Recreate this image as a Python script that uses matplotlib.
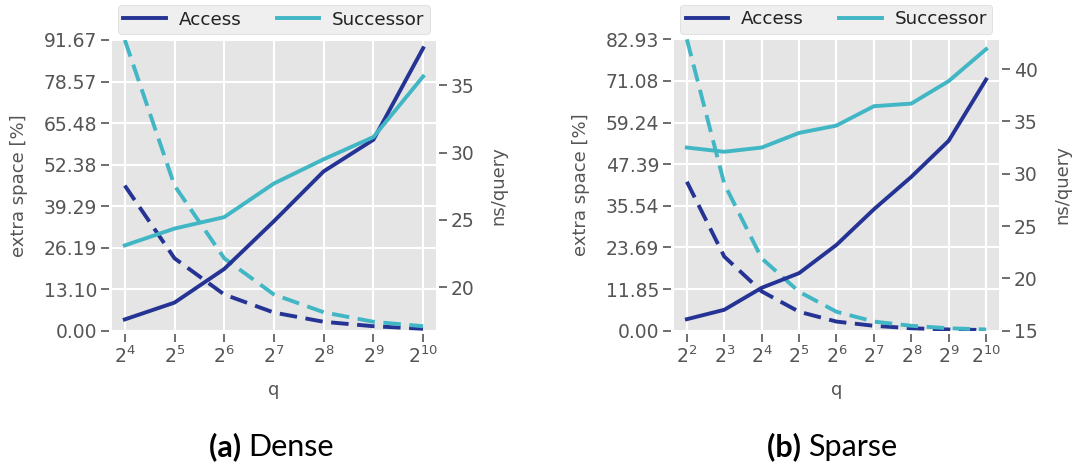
import matplotlib
matplotlib.use("Agg")
import matplotlib.pyplot as plt
import numpy as np

plt.style.use("ggplot")
plt.rcParams["font.family"] = ["DejaVu Sans"]
plt.rcParams["mathtext.fontset"] = "dejavusans"

# q values (log2)
dense_exp = [4, 5, 6, 7, 8, 9, 10]
sparse_exp = [2, 3, 4, 5, 6, 7, 8, 9, 10]

# extra space [%] (dashed, left axis)
dense_space_access = [45.8, 22.9, 11.5, 5.8, 2.9, 1.5, 0.7]
dense_space_succ = [91.67, 45.8, 22.9, 11.5, 5.9, 2.9, 1.5]
sparse_space_access = [42.4, 21.1, 11.2, 5.4, 2.6, 1.4, 0.7, 0.35, 0.2]
sparse_space_succ = [82.93, 41.8, 20.6, 11.1, 5.4, 2.6, 1.4, 0.7, 0.35]

# ns/query (solid, right axis)
dense_time_access = [17.6, 18.85, 21.35, 24.9, 28.6, 30.95, 37.75]
dense_time_succ = [23.1, 24.35, 25.2, 27.7, 29.5, 31.15, 35.65]
sparse_time_access = [16.1, 17.0, 19.1, 20.5, 23.2, 26.6, 29.7, 33.15, 39.0]
sparse_time_succ = [32.5, 32.1, 32.5, 33.9, 34.6, 36.45, 36.7, 38.85, 41.9]

captions = ["Dense", "Sparse"]
tags = ["(a)", "(b)"]

c_access = "#253494"
c_succ = "#41b6c4"
gray = "#555555"


def panel(rect, exps, sp_a, sp_s, t_a, t_s, t_lim, t_ticks):
    ax = fig.add_axes(rect)
    ax2 = ax.twinx()
    q = 2.0 ** np.array(exps)

    ax.plot(q, sp_a, color=c_access, lw=2.8, ls=(0, (4.5, 2.2)))
    ax.plot(q, sp_s, color=c_succ, lw=2.8, ls=(0, (4.5, 2.2)))
    h1, = ax2.plot(q, t_a, color=c_access, lw=2.8, label="Access")
    h2, = ax2.plot(q, t_s, color=c_succ, lw=2.8, label="Successor")

    ax.set_xscale("log", base=2)
    m = 0.043 * (exps[-1] - exps[0])
    ax.set_xlim(2.0 ** (exps[0] - m), 2.0 ** (exps[-1] + m))
    ax.set_xticks(q)
    ax.xaxis.set_major_formatter(matplotlib.ticker.LogFormatterMathtext(base=2))
    ax.xaxis.set_minor_locator(matplotlib.ticker.NullLocator())

    ymax = max(sp_s)
    ax.set_ylim(0, ymax)
    yt = np.linspace(0, ymax, 8)
    ax.set_yticks(yt)
    ax.set_yticklabels([f"{v:.2f}" for v in yt])
    ax2.set_ylim(*t_lim)
    ax2.set_yticks(t_ticks)
    ax2.grid(False)

    ax.grid(True, color="white", lw=1.5)
    for a in (ax, ax2):
        for s in a.spines.values():
            s.set_position(("outward", 2.2))
            s.set_visible(False)
        a.tick_params(axis="both", length=5.5, width=1.2, color=gray,
                      labelcolor=gray, labelsize=13.5, pad=3)

    ax.set_xlabel("q", color=gray, fontsize=13, labelpad=10)
    ax.set_ylabel("extra space [%]", color=gray, fontsize=13, labelpad=11)
    ax2.set_ylabel("ns/query", color=gray, fontsize=13, labelpad=11)

    leg = ax2.legend(handles=[h1, h2], loc="lower center", ncol=2,
                     bbox_to_anchor=(0.5, 1.02), borderaxespad=0,
                     fontsize=13.2, handlelength=2.3, handletextpad=0.7,
                     columnspacing=1.95, frameon=True,
                     facecolor="#ebebeb", edgecolor="#d0d0d0", borderpad=0.3)
    for t in leg.get_texts():
        t.set_color("#222222")
    return ax


fig = plt.figure(figsize=(10.85, 4.66), dpi=100)
fig.patch.set_facecolor("white")

panel([0.1032, 0.2897, 0.2986, 0.6245], dense_exp,
      dense_space_access, dense_space_succ, dense_time_access, dense_time_succ,
      (16.74, 38.36), [20, 25, 30, 35])
panel([0.6212, 0.2903, 0.2995, 0.6253], sparse_exp,
      sparse_space_access, sparse_space_succ, sparse_time_access, sparse_time_succ,
      (15.0, 42.84), [15, 20, 25, 30, 35, 40])

for cx, tag, cap in zip([0.229, 0.745], tags, captions):
    fig.text(cx, 0.022, tag + " ", ha="right", va="baseline", fontsize=22,
             fontweight="bold", family="Lato", color="black")
    fig.text(cx, 0.022, cap, ha="left", va="baseline", fontsize=22,
             family="Lato", color="black")

fig.savefig("out.png", dpi=100)
